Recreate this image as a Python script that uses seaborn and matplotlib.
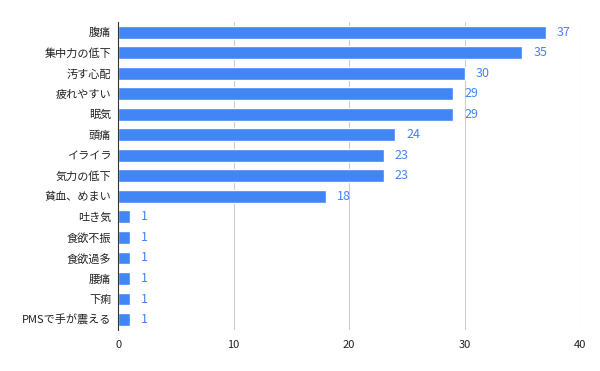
import numpy as np
import seaborn as sns
import pandas as pd
import matplotlib.pyplot as plt

symptoms = ['腹痛', '集中力の低下', '汚す心配', '疲れやすい', '眠気', '頭痛', 'イライラ',
            '気力の低下', '貧血、めまい', '吐き気', '食欲不振', '食欲過多', '腰痛', '下痢',
            'PMSで手が震える']
counts = [37, 35, 30, 29, 29, 24, 23, 23, 18, 1, 1, 1, 1, 1, 1]
x_ticks = [0, 10, 20, 30, 40]

data = pd.DataFrame({'symptom': symptoms, 'count': counts})

sns.set_style('white')
plt.rcParams['font.family'] = ['Noto Sans CJK JP', 'DejaVu Sans']

fig = plt.figure(figsize=(6, 3.71), dpi=100)
ax = fig.add_axes([0.197, 0.111, 0.77, 0.83])
sns.barplot(x='count', y='symptom', data=data, color='#4285F4', width=0.63,
            saturation=1, ax=ax)

for i, v in enumerate(counts):
    ax.annotate(str(v), (v, i), xytext=(8, 0), textcoords='offset points',
                va='center', ha='left', color='#4285F4', fontsize=9)

ax.set_xlim(0, 40)
ax.set_xticks(x_ticks)
ax.set_xlabel('')
ax.set_ylabel('')
ax.grid(axis='x', color='#cccccc', linewidth=0.8)
ax.set_axisbelow(True)
for s in ['top', 'right', 'bottom']:
    ax.spines[s].set_visible(False)
ax.spines['left'].set_color('#333333')
ax.tick_params(axis='both', length=0, labelsize=8, colors='#222222')
ax.tick_params(axis='x', pad=7)
ax.tick_params(axis='y', pad=5)

plt.savefig('out.png', dpi=100)
